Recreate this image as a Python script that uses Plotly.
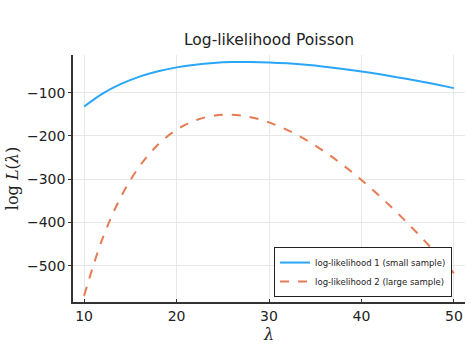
import plotly.graph_objects as go

lam = [10, 12, 14, 16, 18, 20, 22, 24, 26, 28, 30, 32, 34, 36, 38, 40, 42, 44, 46, 48, 50]
loglik_small = [-132.2, -102.1, -79.7, -62.9, -50.5, -41.6, -35.4, -31.4, -29.4, -29.1, -30.1,
                -32.3, -35.6, -39.9, -45.1, -51.0, -57.5, -64.8, -72.5, -80.8, -89.6]
loglik_large = [-569.6, -437.0, -340.5, -270.3, -220.1, -185.8, -164.3, -153.3, -151.3, -156.8, -168.8,
                -186.6, -209.2, -236.4, -267.4, -302.0, -339.8, -380.5, -424.0, -469.5, -517.5]
x_ticks = [10, 20, 30, 40, 50]
y_ticks = [-100, -200, -300, -400, -500]

fig = go.Figure()
fig.add_trace(go.Scatter(x=lam, y=loglik_small, mode="lines", line=dict(color="#2AA6F8", width=2, shape="spline"),
                         name="log-likelihood 1 (small sample)"))
fig.add_trace(go.Scatter(x=lam, y=loglik_large, mode="lines", line=dict(color="#E67A52", width=2, dash="dash", shape="spline"),
                         name="log-likelihood 2 (large sample)"))

fig.update_layout(
    width=473, height=353,
    margin=dict(l=73, r=8, t=55, b=51),
    paper_bgcolor="white", plot_bgcolor="white",
    font=dict(family="DejaVu Sans", size=14, color="#222"),
    title=dict(text="Log-likelihood Poisson", x=(73 + 465) / 2 / 473, xanchor="center",
               y=1 - 40 / 353, yanchor="middle", font=dict(size=15.5, color="#222")),
    legend=dict(x=0.967, y=0.02, xanchor="right", yanchor="bottom",
                bgcolor="white", bordercolor="#222", borderwidth=1,
                font=dict(size=8.5, color="#222"), itemwidth=30, tracegroupgap=0),
    showlegend=True,
)
fig.update_xaxes(range=[8.8, 51.2], tickvals=x_ticks, showgrid=True, gridcolor="#e8e8e8", gridwidth=1,
                 zeroline=False, showline=True, linecolor="#333", linewidth=1.5,
                 ticks="inside", ticklen=3, tickcolor="#333",
                 title=dict(text="<i>λ</i>", font=dict(family="DejaVu Serif", size=16), standoff=6))
fig.update_yaxes(range=[-584, -13], tickvals=y_ticks, showgrid=True, gridcolor="#e8e8e8", gridwidth=1,
                 zeroline=False, showline=True, linecolor="#333", linewidth=1.5,
                 ticks="outside", ticklen=3, tickcolor="#333",
                 title=dict(text="log <i>L</i>(<i>λ</i>)", font=dict(family="DejaVu Serif", size=16), standoff=4))

fig.write_html("out.html")
